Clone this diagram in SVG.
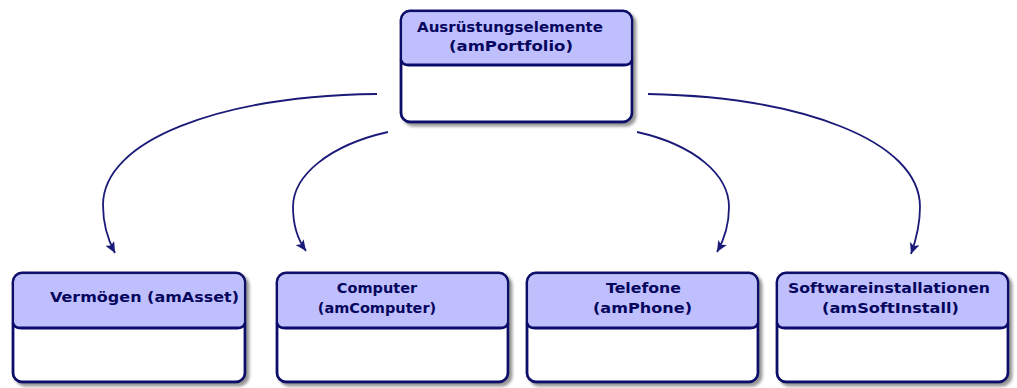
<svg xmlns="http://www.w3.org/2000/svg" width="1017" height="388" viewBox="0 0 1017 388">
<style>
  .box { fill: #ffffff; stroke: #0b0b6b; stroke-width: 2.8; }
  .hdr { fill: #bfbffd; }
  .sep { fill: none; stroke: #0b0b6b; stroke-width: 2.8; }
  .lbl { font-family: "DejaVu Sans", Verdana, sans-serif; font-weight: bold; font-size: 14.5px; fill: #06065e; }
  .conn { fill: none; stroke: #1a1a78; stroke-width: 1.8; marker-end: url(#arr); }
</style>
<defs>
  <filter id="sh" x="-10%" y="-10%" width="130%" height="130%">
    <feDropShadow dx="3" dy="3" stdDeviation="1.6" flood-color="#7a7a7a" flood-opacity="0.8"/>
  </filter>
  <marker id="arr" markerWidth="12" markerHeight="10" refX="11" refY="5" orient="auto" markerUnits="userSpaceOnUse">
    <path d="M0,0 L11,5 L0,10 L2.5,5 z" fill="#1a1a78"/>
  </marker>
</defs>

<g id="connectors">
  <path class="conn" d="M377,94 C220,96 103,140 103,205 C103,225 108,240 115,253"/>
  <path class="conn" d="M388,132 C330,145 293,175 293,207 C293,225 298,240 306,251"/>
  <path class="conn" d="M637,132 C695,145 729,175 729,207 C729,225 724,240 717,252"/>
  <path class="conn" d="M648,94 C800,97 920,140 920,207 C920,225 916,240 911,254"/>
</g>

<g id="node-amPortfolio">
  <rect class="box" x="401" y="11" width="231" height="111" rx="9" filter="url(#sh)"/>
  <path class="hdr" d="M410,12.3 H623 A7.7,7.7 0 0 1 630.7,20 V61 Q630.7,65 624,65 H409 Q402.3,65 402.3,61 V20 A7.7,7.7 0 0 1 410,12.3 z"/>
  <path class="sep" d="M401,60 Q402,65 409,65 H624 Q631,65 632,60"/>
  <text class="lbl" x="510" y="32" text-anchor="middle" textLength="186" lengthAdjust="spacingAndGlyphs">Ausrüstungselemente</text>
  <text class="lbl" x="511" y="51" text-anchor="middle" textLength="124" lengthAdjust="spacingAndGlyphs">(amPortfolio)</text>
</g>

<g id="node-amAsset">
  <rect class="box" x="13" y="273" width="232" height="109" rx="9" filter="url(#sh)"/>
  <path class="hdr" d="M22,274.3 H236 A7.7,7.7 0 0 1 243.7,282 V324 Q243.7,328 237,328 H21 Q14.3,328 14.3,324 V282 A7.7,7.7 0 0 1 22,274.3 z"/>
  <path class="sep" d="M13,323 Q14,328 21,328 H237 Q244,328 245,323"/>
  <text class="lbl" x="50" y="302" textLength="189" lengthAdjust="spacingAndGlyphs">Vermögen (amAsset)</text>
</g>

<g id="node-amComputer">
  <rect class="box" x="277" y="273" width="231" height="109" rx="9" filter="url(#sh)"/>
  <path class="hdr" d="M286,274.3 H499 A7.7,7.7 0 0 1 506.7,282 V324 Q506.7,328 500,328 H285 Q278.3,328 278.3,324 V282 A7.7,7.7 0 0 1 286,274.3 z"/>
  <path class="sep" d="M277,323 Q278,328 285,328 H500 Q507,328 508,323"/>
  <text class="lbl" x="377" y="293" text-anchor="middle">Computer</text>
  <text class="lbl" x="377" y="313" text-anchor="middle">(amComputer)</text>
</g>

<g id="node-amPhone">
  <rect class="box" x="527" y="273" width="231" height="109" rx="9" filter="url(#sh)"/>
  <path class="hdr" d="M536,274.3 H749 A7.7,7.7 0 0 1 756.7,282 V324 Q756.7,328 750,328 H535 Q528.3,328 528.3,324 V282 A7.7,7.7 0 0 1 536,274.3 z"/>
  <path class="sep" d="M527,323 Q528,328 535,328 H750 Q757,328 758,323"/>
  <text class="lbl" x="643.5" y="293" text-anchor="middle" textLength="75" lengthAdjust="spacingAndGlyphs">Telefone</text>
  <text class="lbl" x="642.5" y="313" text-anchor="middle" textLength="99" lengthAdjust="spacingAndGlyphs">(amPhone)</text>
</g>

<g id="node-amSoftInstall">
  <rect class="box" x="777" y="273" width="231" height="109" rx="9" filter="url(#sh)"/>
  <path class="hdr" d="M786,274.3 H999 A7.7,7.7 0 0 1 1006.7,282 V324 Q1006.7,328 1000,328 H785 Q778.3,328 778.3,324 V282 A7.7,7.7 0 0 1 786,274.3 z"/>
  <path class="sep" d="M777,323 Q778,328 785,328 H1000 Q1007,328 1008,323"/>
  <text class="lbl" x="889" y="293" text-anchor="middle" textLength="202" lengthAdjust="spacingAndGlyphs">Softwareinstallationen</text>
  <text class="lbl" x="890.5" y="313" text-anchor="middle" textLength="137" lengthAdjust="spacingAndGlyphs">(amSoftInstall)</text>
</g>
</svg>
